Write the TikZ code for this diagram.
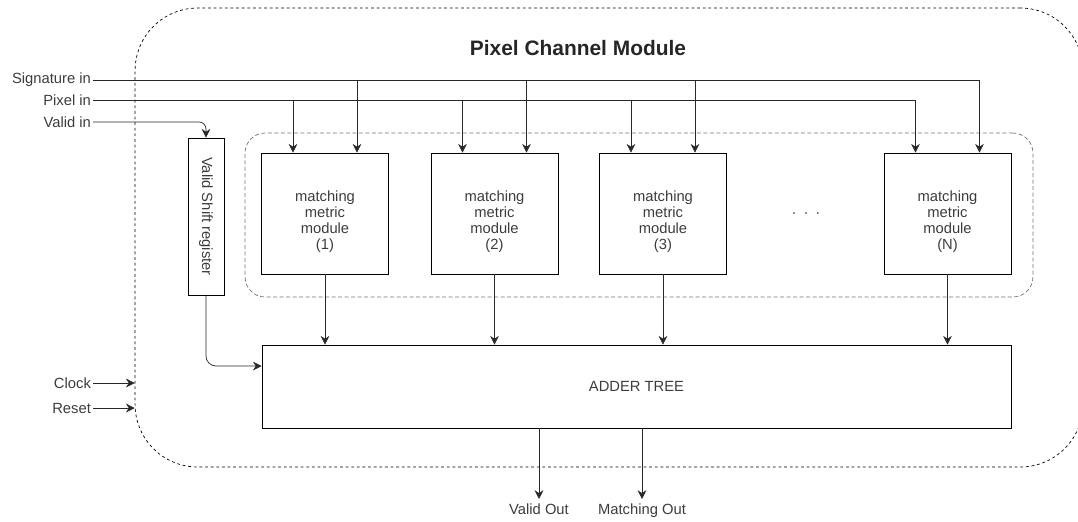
\documentclass[tikz,border=0pt]{standalone}
\usepackage{fontspec}
\setmainfont{Liberation Sans}
\usetikzlibrary{arrows.meta}

\definecolor{txtgray}{RGB}{60,60,60}
\definecolor{linegray}{RGB}{40,40,40}

\tikzset{
    sig/.style={font=\fontsize{8.4}{9.1}\selectfont, text=txtgray},
    inlabel/.style={sig, anchor=east, inner sep=1pt},
    outlabel/.style={sig, anchor=north, inner ysep=0.5pt, text height=1.5ex, text depth=0.4ex},
    mmod/.style={draw, minimum width=2.54cm, minimum height=2.42cm},
    mtext/.style={sig, align=center},
    wire/.style={draw=linegray, ->, >={Stealth[length=5pt,width=5pt]}},
}

\begin{document}
\begin{tikzpicture}[x=0.02cm, y=-0.02cm]
            \clip (0,0) rectangle (1078,521);

            %% module englobant
            \node [draw, dash pattern=on 1.6pt off 1.6pt, rounded corners=1.25cm,
                   minimum width=18.96cm, minimum height=9.18cm] (pcm) at (609,237.5) {};
            \node [font=\fontsize{11.9}{14}\selectfont\bfseries, text=black!85] (title) at (578,48) {Pixel Channel Module};

            %% groupe des modules
            \node [draw=black!55, dash pattern=on 2.3pt off 1.4pt, rounded corners=0.4cm,
                   minimum width=15.76cm, minimum height=3.28cm] (grp) at (639,215) {};

            \node [mmod] (m1) at (325,213.5) {};
            \node [mmod] (m2) at (494.5,213.5) {};
            \node [mmod] (m3) at (663,213.5) {};
            \node [mmod] (mN) at (947.5,213.5) {};
            \node [mtext] (m1t) at (325,222) {matching\\metric\\module\\(1)};
            \node [mtext] (m2t) at (494.5,222) {matching\\metric\\module\\(2)};
            \node [mtext] (m3t) at (663,222) {matching\\metric\\module\\(3)};
            \node [mtext] (mNt) at (947.5,222) {matching\\metric\\module\\(N)};
            \node [sig] (dots) at (806,215) {·\hspace{4pt}·\hspace{4pt}·};

            \node [draw, sig, minimum width=0.72cm, minimum height=3.14cm, inner sep=0pt] (vsr) at (206,216.5)
                  {\rotatebox{-90}{Valid Shift register}};

            \node [draw, sig, minimum width=14.98cm, minimum height=1.66cm] (add) at (636.5,386.5) {ADDER TREE};

            %% entrees
            \node [inlabel] (sin) at (93,80) {Signature in};
            \node [inlabel] (pin) at (93,100) {Pixel in};
            \node [inlabel] (vin) at (93,122) {Valid in};
            \node [inlabel] (clk) at (93,383) {Clock};
            \node [inlabel] (rst) at (93,408) {Reset};

            %% sorties
            \node [outlabel] (vout) at (539,499) {Valid Out};
            \node [outlabel] (mout) at (642,499) {Matching Out};

            \coordinate (s1) at ([xshift=0.64cm]m1.north);
            \coordinate (s2) at ([xshift=0.64cm]m2.north);
            \coordinate (s3) at ([xshift=0.64cm]m3.north);
            \coordinate (sN) at ([xshift=0.64cm]mN.north);
            \coordinate (p1) at ([xshift=-0.64cm]m1.north);
            \coordinate (p2) at ([xshift=-0.64cm]m2.north);
            \coordinate (p3) at ([xshift=-0.64cm]m3.north);
            \coordinate (pN) at ([xshift=-0.64cm]mN.north);
            \coordinate (addin) at ([yshift=0.41cm]add.west);

            \draw [wire] (sin.east) -| (sN);
            \draw [wire] (sin.east -| s1) -- (s1);
            \draw [wire] (sin.east -| s2) -- (s2);
            \draw [wire] (sin.east -| s3) -- (s3);
            \draw [wire] (pin.east) -| (pN);
            \draw [wire] (pin.east -| p1) -- (p1);
            \draw [wire] (pin.east -| p2) -- (p2);
            \draw [wire] (pin.east -| p3) -- (p3);
            \draw [wire, rounded corners=0.14cm] (vin.east) -| (vsr.north);

            \draw [wire, rounded corners=0.2cm] (vsr.south) |- (addin);
            \draw [wire] (m1.south) -- (m1.south |- add.north);
            \draw [wire] (m2.south) -- (m2.south |- add.north);
            \draw [wire] (m3.south) -- (m3.south |- add.north);
            \draw [wire] (mN.south) -- (mN.south |- add.north);

            \draw [wire] (clk.east) -- (clk.east -| pcm.west);
            \draw [wire] (rst.east) -- (rst.east -| pcm.west);

            \draw [wire] (add.south -| vout) -- (vout.north);
            \draw [wire] (add.south -| mout) -- (mout.north);
        \end{tikzpicture}
\end{document}
